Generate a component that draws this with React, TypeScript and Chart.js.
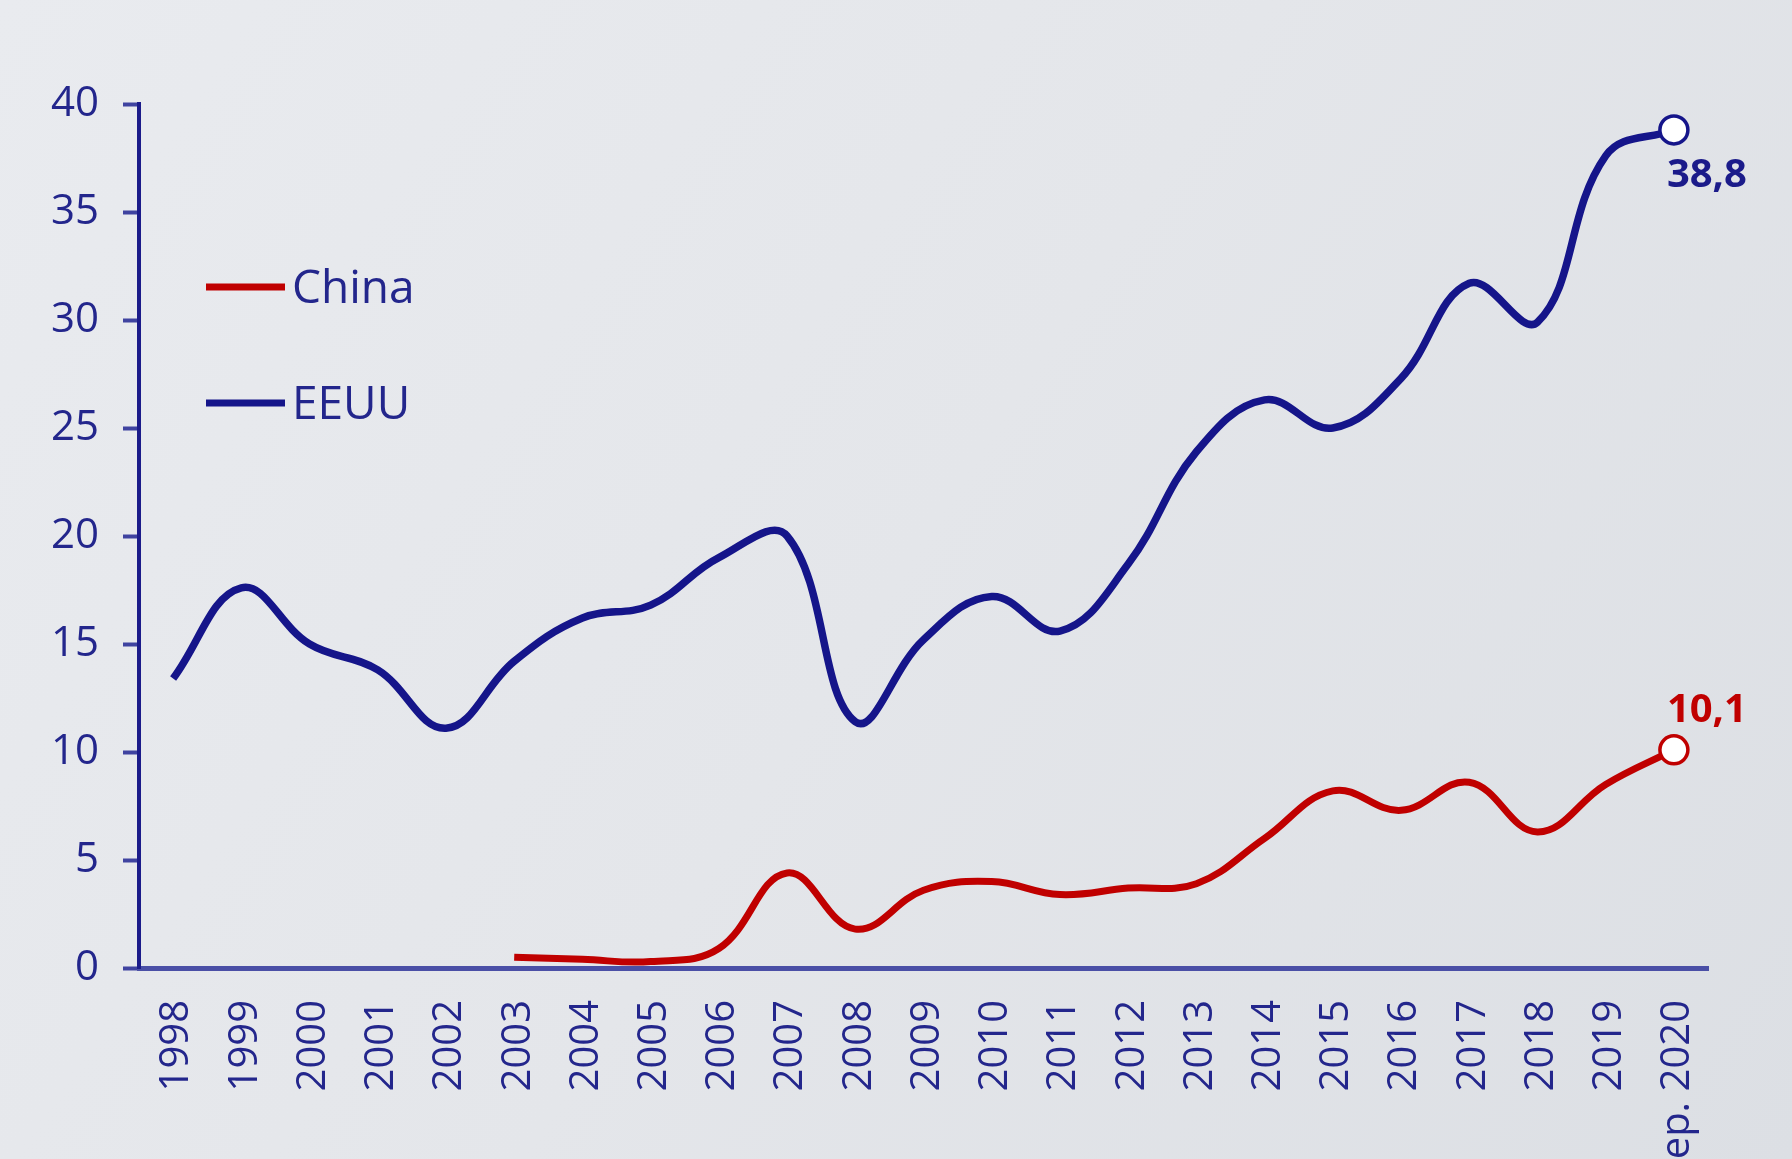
import React, { useEffect, useRef } from "react";
import { Chart, registerables } from "chart.js";

Chart.register(...registerables);

// ---- data ----
const years = [
  "1998", "1999", "2000", "2001", "2002", "2003", "2004", "2005", "2006", "2007", "2008",
  "2009", "2010", "2011", "2012", "2013", "2014", "2015", "2016", "2017", "2018", "2019", "sep. 2020",
];
const chinaValues = [
  null, null, null, null, null, 0.5, 0.4, 0.3, 0.9, 4.4, 1.8,
  3.6, 4.0, 3.4, 3.7, 3.9, 6.0, 8.2, 7.3, 8.6, 6.3, 8.5, 10.1,
];
const eeuuValues = [
  13.4, 17.6, 15.0, 13.8, 11.1, 14.2, 16.2, 16.8, 19.0, 20.0, 11.4,
  15.2, 17.2, 15.6, 18.7, 23.9, 26.3, 25.0, 27.3, 31.7, 29.9, 37.6, 38.8,
];
const seriesNames = ["China", "EEUU"];
const yMin = 0;
const yMax = 40;
const yStep = 5;

// ---- styles ----
const FONT = "'Open Sans', 'Noto Sans', sans-serif";
const NAVY = "#1b1b8a";
const TEXT_NAVY = "#23268c";
const seriesColors = ["#c00000", "#15158a"];
const endLabelColors = ["#c00000", "#1b1b8a"];
const endLabelDy = [-28, 57]; // baseline offset from last point
const endLabelDx = 33;

const fmt = (v: number) => v.toFixed(1).replace(".", ",");

const backgroundPlugin = {
  id: "bgPlugin",
  beforeDraw(chart: any) {
    const { ctx, width, height } = chart;
    ctx.save();
    const g = ctx.createLinearGradient(0, 0, width, height);
    g.addColorStop(0, "#e9ebef");
    g.addColorStop(0.5, "#e4e6ea");
    g.addColorStop(1, "#dcdfe4");
    ctx.fillStyle = g;
    ctx.fillRect(0, 0, width, height);
    ctx.restore();
  },
};

const legendPlugin = {
  id: "inlineLegend",
  afterDraw(chart: any) {
    const { ctx, chartArea } = chart;
    ctx.save();
    chart.data.datasets.forEach((ds: any, i: number) => {
      const y = chartArea.top + 183 + i * 116;
      const x0 = chartArea.left + 67;
      const x1 = chartArea.left + 146;
      ctx.beginPath();
      ctx.strokeStyle = ds.borderColor;
      ctx.lineWidth = 7;
      ctx.lineCap = "butt";
      ctx.moveTo(x0, y);
      ctx.lineTo(x1, y);
      ctx.stroke();
      ctx.font = `46px ${FONT}`;
      ctx.fillStyle = TEXT_NAVY;
      ctx.textAlign = "left";
      ctx.textBaseline = "alphabetic";
      ctx.fillText(ds.label, x1 + 7, y + 16);
    });
    ctx.restore();
  },
};

const endLabelPlugin = {
  id: "endLabels",
  afterDatasetsDraw(chart: any) {
    const { ctx } = chart;
    ctx.save();
    chart.data.datasets.forEach((ds: any, i: number) => {
      const meta = chart.getDatasetMeta(i);
      const n = meta.data.length;
      const pt = meta.data[n - 1];
      const v = ds.data[n - 1];
      if (!pt || v == null) return;
      ctx.font = `bold 40px ${FONT}`;
      ctx.fillStyle = endLabelColors[i];
      ctx.textAlign = "center";
      ctx.textBaseline = "alphabetic";
      ctx.fillText(fmt(v), pt.x + endLabelDx, pt.y + endLabelDy[i]);
    });
    ctx.restore();
  },
};

function ChartView() {
  const ref = useRef<HTMLCanvasElement | null>(null);

  useEffect(() => {
    if (!ref.current) return;
    const lastIdx = years.length - 1;
    const pointRadius = (c: any) => (c.dataIndex === lastIdx ? 14 : 0);
    const chart = new Chart(ref.current, {
      type: "line",
      data: {
        labels: years,
        datasets: [
          {
            label: seriesNames[0],
            data: chinaValues,
            borderColor: seriesColors[0],
            backgroundColor: "#ffffff",
            pointBackgroundColor: "#ffffff",
            pointBorderColor: seriesColors[0],
            pointBorderWidth: 3.5,
            pointRadius,
            pointHoverRadius: pointRadius,
            borderWidth: 7,
            tension: 0.4,
            fill: false,
            clip: false,
          },
          {
            label: seriesNames[1],
            data: eeuuValues,
            borderColor: seriesColors[1],
            backgroundColor: "#ffffff",
            pointBackgroundColor: "#ffffff",
            pointBorderColor: seriesColors[1],
            pointBorderWidth: 3.5,
            pointRadius,
            pointHoverRadius: pointRadius,
            borderWidth: 7.5,
            tension: 0.4,
            fill: false,
            clip: false,
          },
        ],
      },
      options: {
        responsive: false,
        animation: false,
        devicePixelRatio: 1,
        layout: { padding: { top: 104, right: 84, left: 0, bottom: 0 } },
        plugins: {
          legend: { display: false },
          title: { display: false },
          tooltip: { enabled: false },
        },
        scales: {
          x: {
            type: "category",
            offset: true,
            grid: { display: false, drawTicks: false },
            border: { display: true, color: "#4a4fa6", width: 5 },
            ticks: {
              autoSkip: false,
              minRotation: 90,
              maxRotation: 90,
              padding: 32,
              labelOffset: 4,
              color: TEXT_NAVY,
              font: { family: FONT, size: 40 },
            },
            afterFit: (scale: any) => {
              scale.height = 191;
            },
          },
          y: {
            min: yMin,
            max: yMax,
            grid: {
              display: true,
              drawOnChartArea: false,
              drawTicks: true,
              tickLength: 16,
              tickWidth: 4,
              tickColor: "#3f43a0",
            },
            border: { display: true, color: NAVY, width: 4 },
            ticks: {
              stepSize: yStep,
              padding: 24,
              color: TEXT_NAVY,
              font: { family: FONT, size: 42 },
            },
            afterFit: (scale: any) => {
              scale.width = 139;
            },
          },
        },
      },
      plugins: [backgroundPlugin, legendPlugin, endLabelPlugin],
    });
    return () => chart.destroy();
  }, []);

  return (
    <div
      style={{
        position: "fixed",
        left: 0,
        top: 0,
        width: 1792,
        height: 1159,
        overflow: "hidden",
        background: "#e4e6ea",
      }}
    >
      <canvas ref={ref} width={1792} height={1159} style={{ display: "block" }} />
    </div>
  );
}

export default function App() {
  return <ChartView />;
}
